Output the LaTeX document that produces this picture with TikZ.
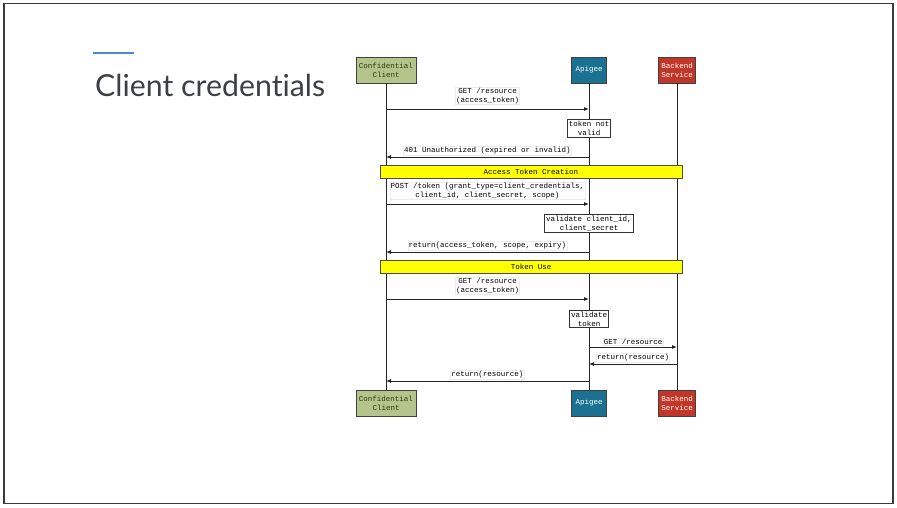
\documentclass[tikz,border=0pt]{standalone}
\usepackage{fontspec}
\setmainfont{Lato}[Ligatures={NoCommon,NoRare,NoDiscretionary}]
\newfontfamily\seqfont{Liberation Mono}
\usetikzlibrary{arrows.meta}
\definecolor{frameline}{HTML}{3A3A3A}
\definecolor{accentblue}{HTML}{4A86E8}
\definecolor{titlegray}{HTML}{3C4043}
\definecolor{clientfill}{HTML}{B4C48A}
\definecolor{clienttext}{HTML}{2E3A14}
\definecolor{apigeefill}{HTML}{1B7192}
\definecolor{backendfill}{HTML}{C13628}
\definecolor{phaseyellow}{HTML}{FFFF00}
\tikzset{
  seq/.style={font=\seqfont\fontsize{7.5}{9}\selectfont},
  actor/.style={seq, draw=black!75, line width=0.9pt, minimum height=26pt, inner xsep=3pt, align=center},
  note/.style={seq, draw=black!80, fill=white, line width=0.8pt, inner sep=1.5pt, align=center},
  phase/.style={seq, draw=black!70, fill=phaseyellow, line width=0.8pt, minimum width=302pt, minimum height=13pt, inner sep=0pt},
  life/.style={draw=black!85, line width=0.8pt},
  msg/.style={draw=black!85, line width=0.8pt, -{Latex[length=5pt,width=4pt]}},
  lbl/.style={seq, above=1.5pt, align=center, inner sep=0.8pt, draw=black!8, fill=white},
  lbltwo/.style={lbl, above=2.5pt}
}

\begin{document}
\begin{tikzpicture}[x=1pt,y=-1pt]

\useasboundingbox (0,0) rectangle (897,508);
\draw[frameline, line width=1.5pt] (4,3.5) rectangle (893,503.5);
\draw[accentblue, line width=1.5pt] (93,53) -- (134,53);
\node[anchor=base west, inner sep=0pt, text=titlegray, font=\fontsize{30.3}{36}\selectfont] at (95,97) (title) {Client credentials};

\node[actor, fill=clientfill, text=clienttext] at (386,70) (clientTop) {Confidential\\Client};
\node[actor, fill=apigeefill, text=white, inner xsep=4pt] at (589,70) (apigeeTop) {Apigee};
\node[actor, fill=backendfill, text=white] at (677,70) (backendTop) {Backend\\Service};
\node[actor, fill=clientfill, text=clienttext] at (386,403) (clientBot) {Confidential\\Client};
\node[actor, fill=apigeefill, text=white, inner xsep=4pt] at (589,403) (apigeeBot) {Apigee};
\node[actor, fill=backendfill, text=white] at (677,403) (backendBot) {Backend\\Service};

\path (clientTop) edge [life] (clientBot)
  (apigeeTop) edge [life] (apigeeBot)
  (backendTop) edge [life] (backendBot);

\coordinate (c1) at (386,109); \coordinate (a1) at (589,109);
\coordinate (c2) at (386,157); \coordinate (a2) at (589,157);
\coordinate (c3) at (386,204); \coordinate (a3) at (589,204);
\coordinate (c4) at (386,252); \coordinate (a4) at (589,252);
\coordinate (c5) at (386,299); \coordinate (a5) at (589,299);
\coordinate (a6) at (589,347); \coordinate (b6) at (677,347);
\coordinate (a7) at (589,364); \coordinate (b7) at (677,364);
\coordinate (c8) at (386,381); \coordinate (a8) at (589,381);

\node[phase] at (531,171.5) (creation) {Access Token Creation};
\node[phase] at (531,267) (use) {Token Use};

\node[note] at (589,128.5) (notValid) {token not\\valid};
\node[note] at (589,223.5) (checkClient) {validate client\_id,\\client\_secret};
\node[note] at (589,319) (checkToken) {validate\\token};

\path
(c1) edge [msg] node[lbltwo] {GET /resource\\(access\_token)} (a1)
(a2) edge [msg] node[lbl] {401 Unauthorized (expired or invalid)} (c2)
(c3) edge [msg] node[lbltwo] {POST /token (grant\_type=client\_credentials,\\client\_id, client\_secret, scope)} (a3)
(a4) edge [msg] node[lbl] {return(access\_token, scope, expiry)} (c4)
(c5) edge [msg] node[lbltwo] {GET /resource\\(access\_token)} (a5)
(a6) edge [msg] node[lbl] {GET /resource} (b6)
(b7) edge [msg] node[lbl] {return(resource)} (a7)
(a8) edge [msg] node[lbl] {return(resource)} (c8);

\end{tikzpicture}
\end{document}
